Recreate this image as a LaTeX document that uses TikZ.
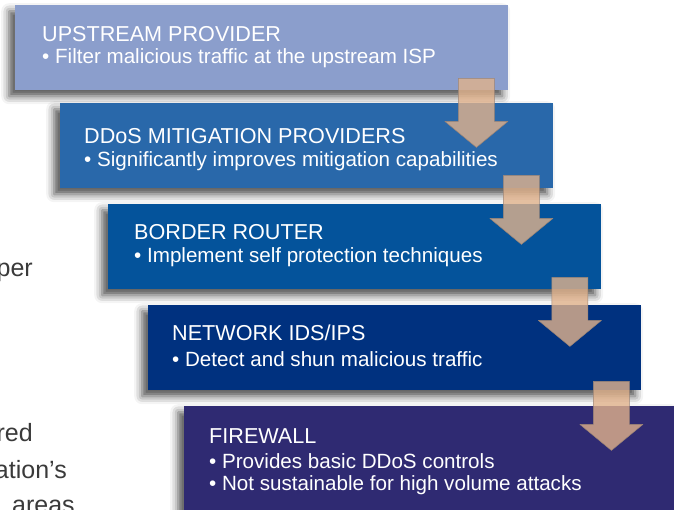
\documentclass[tikz,border=0pt]{standalone}
\usepackage{fontspec}
\setmainfont{Liberation Sans}
\usetikzlibrary{calc,shadows.blur}

\definecolor{upstreamblue}{HTML}{8B9ECC}
\definecolor{ddosblue}{HTML}{2968AA}
\definecolor{borderblue}{HTML}{04539B}
\definecolor{idsblue}{HTML}{00317F}
\definecolor{firewallpurple}{HTML}{2F2A72}
\definecolor{arrowtan}{HTML}{E1B28C}
\definecolor{arrowedge}{HTML}{9C8474}
\definecolor{pagegray}{HTML}{3A3A3A}

\begin{document}
\begin{tikzpicture}[
				x=1pt, y=1pt,
				line cap=round,
				line join=round,
				layerbox/.style={fill=#1, anchor=north west, inner sep=0pt,
					minimum width=493pt, minimum height=85pt,
					blur shadow={shadow xshift=-6pt, shadow yshift=-6pt,
						shadow blur radius=8pt, shadow opacity=70}},
				boxtitle/.style={text=white, anchor=base west, inner sep=0pt,
					font=\fontsize{21.6}{22}\selectfont},
				boxitem/.style={text=white, anchor=base west, inner sep=0pt,
					font=\fontsize{20.6}{22}\selectfont},
				pagetext/.style={text=pagegray, inner sep=0pt,
					font=\fontsize{25}{36}\selectfont},
				flowdown/.pic={
					\draw[fill=arrowtan, fill opacity=0.8, draw=arrowedge, line width=0.5pt]
					(-18,0) -- (18,0) -- (18,-43) -- (31.5,-43) -- (0,-69)
					-- (-31.5,-43) -- (-18,-43) -- cycle;
				}
				]
				
				\useasboundingbox (0,0) rectangle (674,-510);
				\clip (0,0) rectangle (674,-510);
				
				% Cut-off words of the page text
				\node[pagetext, anchor=base east] (page-1) at (33,-277) {per};
				\node[pagetext, anchor=base east] (page-2) at (33,-441) {red};
				\node[pagetext, anchor=base east] (page-3) at (67,-478) {ation’s};
				\node[pagetext, anchor=base west] (page-4) at (12,-513) {areas};
				
				% Layers
				\node[layerbox=upstreamblue] (up) at (15,-5) {};
				\node[boxtitle] (up-title) at ($(up.north west)+(27,-37)$) {UPSTREAM PROVIDER};
				\node[boxitem] (up-item) at ($(up.north west)+(27,-59)$)
				{\textbullet\ Filter malicious traffic at the upstream ISP};
				
				\node[layerbox=ddosblue] (ddos) at (60,-103) {};
				\node[boxtitle] (ddos-title) at ($(ddos.north west)+(24,-41)$) {DDoS MITIGATION PROVIDERS};
				\node[boxitem] (ddos-item) at ($(ddos.north west)+(24,-64)$)
				{\textbullet\ Significantly improves mitigation capabilities};
				
				\node[layerbox=borderblue] (border) at (108,-204) {};
				\node[boxtitle] (border-title) at ($(border.north west)+(26,-36)$) {BORDER ROUTER};
				\node[boxitem] (border-item) at ($(border.north west)+(26,-59)$)
				{\textbullet\ Implement self protection techniques};
				
				\node[layerbox=idsblue] (ids) at (148,-305) {};
				\node[boxtitle] (ids-title) at ($(ids.north west)+(24,-36)$) {NETWORK IDS/IPS};
				\node[boxitem] (ids-item) at ($(ids.north west)+(24,-61)$)
				{\textbullet\ Detect and shun malicious traffic};
				
				\node[layerbox=firewallpurple, minimum height=120pt] (fw) at (184,-406) {};
				\node[boxtitle] (fw-title) at ($(fw.north west)+(25,-37)$) {FIREWALL};
				\node[boxitem] (fw-item1) at ($(fw.north west)+(25,-62)$)
				{\textbullet\ Provides basic DDoS controls};
				\node[boxitem] (fw-item2) at ($(fw.north west)+(25,-84)$)
				{\textbullet\ Not sustainable for high volume attacks};
				
				% Arrows between the layers
				\foreach \layer/\dx/\dy in {up/-32/12, ddos/-32/13, border/-31.5/12, ids/-30/9}
				{
					\pic at ($(\layer.south east)+(\dx,\dy)$) {flowdown};
				}
				
			\end{tikzpicture}
\end{document}
